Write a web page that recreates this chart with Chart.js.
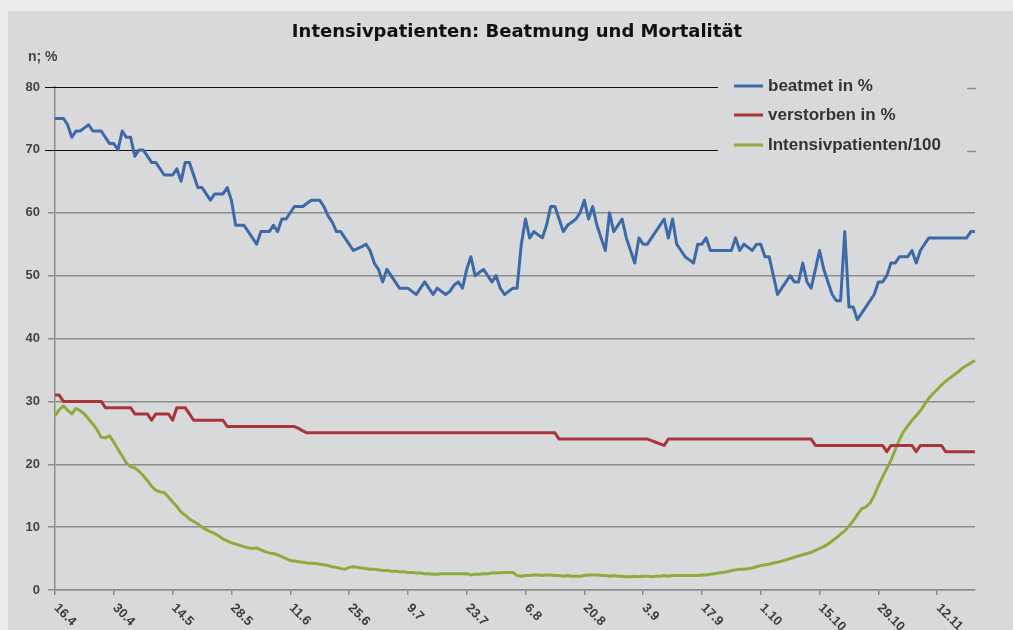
<!DOCTYPE html>
<html lang="de">
<head>
<meta charset="utf-8">
<title>Intensivpatienten: Beatmung und Mortalität</title>
<script src="https://cdn.jsdelivr.net/npm/chart.js@4.4.1/dist/chart.umd.min.js"></script>
<style>
  html, body { margin: 0; padding: 0; background: #ebecee; }
  #wrap { width: 1013px; height: 630px; }
</style>
</head>
<body>
<div id="wrap"><canvas id="chart-icu" width="1013" height="630"></canvas></div>
<script>
// Tageswerte ab 16.4. (220 Tage)
const beatmet = [
  75, 75, 75, 74, 72, 73, 73, 73.5, 74, 73,
  73, 73, 72, 71, 71, 70, 73, 72, 72, 69,
  70, 70, 69, 68, 68, 67, 66, 66, 66, 67,
  65, 68, 68, 66, 64, 64, 63, 62, 63, 63,
  63, 64, 62, 58, 58, 58, 57, 56, 55, 57,
  57, 57, 58, 57, 59, 59, 60, 61, 61, 61,
  61.5, 62, 62, 62, 61, 59.5, 58.5, 57, 57, 56,
  55, 54, 54.3, 54.6, 55, 54, 52, 51, 49, 51,
  50, 49, 48, 48, 48, 47.5, 47, 48, 49, 48,
  47, 48, 47.5, 47, 47.5, 48.5, 49, 48, 51, 53,
  50, 50.5, 51, 50, 49, 50, 48, 47, 47.5, 48,
  48, 55, 59, 56, 57, 56.5, 56, 58, 61, 61,
  59, 57, 58, 58.5, 59, 60, 62, 59, 61, 58,
  56, 54, 60, 57, 58, 59, 56, 54, 52, 56,
  55, 55, 56, 57, 58, 59, 56, 59, 55, 54,
  53, 52.5, 52, 55, 55, 56, 54, 54, 54, 54,
  54, 54, 56, 54, 55, 54.5, 54, 55, 55, 53,
  53, 50, 47, 48, 49, 50, 49, 49, 52, 49,
  48, 51, 54, 51, 49, 47, 46, 46, 57, 45,
  45, 43, 44, 45, 46, 47, 49, 49, 50, 52,
  52, 53, 53, 53, 54, 52, 54, 55, 56, 56,
  56, 56, 56, 56, 56, 56, 56, 56, 57, 57
];

const verstorben = [
  31, 31, 30, 30, 30, 30, 30, 30, 30, 30,
  30, 30, 29, 29, 29, 29, 29, 29, 29, 28,
  28, 28, 28, 27, 28, 28, 28, 28, 27, 29,
  29, 29, 28, 27, 27, 27, 27, 27, 27, 27,
  27, 26, 26, 26, 26, 26, 26, 26, 26, 26,
  26, 26, 26, 26, 26, 26, 26, 26, 25.7, 25.3,
  25, 25, 25, 25, 25, 25, 25, 25, 25, 25,
  25, 25, 25, 25, 25, 25, 25, 25, 25, 25,
  25, 25, 25, 25, 25, 25, 25, 25, 25, 25,
  25, 25, 25, 25, 25, 25, 25, 25, 25, 25,
  25, 25, 25, 25, 25, 25, 25, 25, 25, 25,
  25, 25, 25, 25, 25, 25, 25, 25, 25, 25,
  24, 24, 24, 24, 24, 24, 24, 24, 24, 24,
  24, 24, 24, 24, 24, 24, 24, 24, 24, 24,
  24, 24, 23.75, 23.5, 23.25, 23, 24, 24, 24, 24,
  24, 24, 24, 24, 24, 24, 24, 24, 24, 24,
  24, 24, 24, 24, 24, 24, 24, 24, 24, 24,
  24, 24, 24, 24, 24, 24, 24, 24, 24, 24,
  24, 23, 23, 23, 23, 23, 23, 23, 23, 23,
  23, 23, 23, 23, 23, 23, 23, 23, 22, 23,
  23, 23, 23, 23, 23, 22, 23, 23, 23, 23,
  23, 23, 22, 22, 22, 22, 22, 22, 22, 22
];

const intensiv100 = [
  27.7, 28.7, 29.3, 28.6, 28.0, 28.9, 28.5, 28.0, 27.2, 26.4,
  25.5, 24.3, 24.2, 24.5, 23.5, 22.4, 21.3, 20.2, 19.6, 19.4,
  18.9, 18.2, 17.4, 16.5, 15.9, 15.6, 15.5, 14.8, 14.0, 13.3,
  12.4, 11.9, 11.3, 10.9, 10.5, 10.0, 9.6, 9.3, 9.0, 8.6,
  8.1, 7.8, 7.5, 7.3, 7.1, 6.9, 6.7, 6.6, 6.7, 6.4,
  6.1, 5.9, 5.8, 5.6, 5.3, 5.0, 4.7, 4.6, 4.5, 4.4,
  4.3, 4.25, 4.2, 4.1, 4.0, 3.9, 3.7, 3.6, 3.4, 3.3,
  3.6, 3.7, 3.6, 3.5, 3.4, 3.3, 3.3, 3.2, 3.1, 3.1,
  3.0, 3.0, 2.9, 2.9, 2.8, 2.8, 2.7, 2.7, 2.6, 2.6,
  2.5, 2.5, 2.6, 2.6, 2.6, 2.6, 2.6, 2.6, 2.6, 2.4,
  2.5, 2.5, 2.6, 2.6, 2.7, 2.7, 2.75, 2.8, 2.8, 2.8,
  2.3, 2.2, 2.3, 2.3, 2.4, 2.4, 2.3, 2.4, 2.4, 2.3,
  2.3, 2.2, 2.3, 2.2, 2.2, 2.2, 2.3, 2.4, 2.4, 2.4,
  2.3, 2.3, 2.2, 2.3, 2.2, 2.2, 2.1, 2.1, 2.2, 2.1,
  2.2, 2.2, 2.1, 2.2, 2.2, 2.3, 2.2, 2.3, 2.3, 2.3,
  2.3, 2.3, 2.3, 2.3, 2.4, 2.4, 2.5, 2.6, 2.7, 2.8,
  2.9, 3.1, 3.2, 3.3, 3.3, 3.4, 3.5, 3.7, 3.9, 4.0,
  4.1, 4.3, 4.4, 4.6, 4.8, 5.0, 5.2, 5.4, 5.6, 5.8,
  6.0, 6.3, 6.6, 6.9, 7.3, 7.8, 8.3, 8.9, 9.4, 10.2,
  11.0, 12.0, 12.9, 13.2, 13.8, 15.0, 16.6, 18.0, 19.3, 20.6,
  22.3, 23.9, 25.2, 26.1, 27.0, 27.7, 28.5, 29.5, 30.5, 31.2,
  31.9, 32.6, 33.2, 33.7, 34.2, 34.7, 35.3, 35.7, 36.1, 36.5
];

// Beschriftung der x-Achse: jeder 14. Tag
const tickLabels = ['16.4', '30.4', '14.5', '28.5', '11.6', '25.6', '9.7', '23.7',
  '6.8', '20.8', '3.9', '17.9', '1.10', '15.10', '29.10', '12.11'];
const tickStep = 14;
const yTicks = [0, 10, 20, 30, 40, 50, 60, 70, 80];
const seriesNames = ['beatmet in %', 'verstorben in %', 'Intensivpatienten/100'];
const seriesColors = ['#3d69a8', '#a8353a', '#8cab3c'];

// Kategorien: ein Eintrag je Tag
const days = beatmet.map((_, i) => {
  const d = new Date(2020, 3, 16 + i);
  return d.getDate() + '.' + (d.getMonth() + 1);
});

const GRID = '#8c8c8c';

const decorPlugin = {
  id: 'decor',
  beforeDraw: (chart) => {
    const ctx = chart.ctx;
    ctx.save();
    ctx.fillStyle = '#ebecee';
    ctx.fillRect(0, 0, chart.width, chart.height);
    ctx.fillStyle = '#d8d9db';
    ctx.fillRect(8, 11, chart.width - 8, chart.height - 11);
    // leicht hellerer Kasten oben links
    const y = chart.scales.y;
    ctx.fillStyle = 'rgba(255,255,255,0.05)';
    ctx.fillRect(chart.chartArea.left, y.getPixelForValue(80), 192, y.getPixelForValue(70) - y.getPixelForValue(80));
    ctx.restore();
  },
  beforeDatasetsDraw: (chart) => {
    const ctx = chart.ctx;
    const y = chart.scales.y;
    ctx.save();
    [80, 70].forEach(v => {
      const py = Math.round(y.getPixelForValue(v)) + 0.5;
      ctx.strokeStyle = '#111';
      ctx.lineWidth = 1.2;
      ctx.beginPath();
      ctx.moveTo(45, py);
      ctx.lineTo(718, py);
      ctx.stroke();
      ctx.strokeStyle = GRID;
      ctx.lineWidth = 1.5;
      ctx.beginPath();
      ctx.moveTo(967, py + 1);
      ctx.lineTo(976, py + 1);
      ctx.stroke();
    });
    ctx.restore();
  },
  afterDraw: (chart) => {
    const ctx = chart.ctx;
    const x = chart.scales.x;
    const area = chart.chartArea;
    ctx.save();

    // Titel
    ctx.fillStyle = '#111';
    ctx.font = 'bold 18px "DejaVu Sans"';
    ctx.textAlign = 'center';
    ctx.textBaseline = 'middle';
    ctx.fillText('Intensivpatienten: Beatmung und Mortalität', 517, 32);

    // Achsentitel
    ctx.fillStyle = '#444';
    ctx.font = 'bold 14px "Liberation Sans"';
    ctx.textAlign = 'left';
    ctx.fillText('n; %', 28, 57);

    // Datumsbeschriftung, schräg nach rechts unten
    ctx.fillStyle = '#3c3c3c';
    ctx.font = 'bold 13px "Liberation Sans"';
    tickLabels.forEach((lab, k) => {
      const px = x.getPixelForValue(k * tickStep);
      ctx.save();
      ctx.translate(px + 1, area.bottom + 16);
      ctx.rotate(Math.PI / 4);
      ctx.textAlign = 'left';
      ctx.textBaseline = 'middle';
      ctx.fillText(lab, 0, 0);
      ctx.restore();
    });

    // Legende
    const rows = [86, 115, 145];
    ctx.font = 'bold 17px "Liberation Sans"';
    ctx.textAlign = 'left';
    ctx.textBaseline = 'middle';
    chart.data.datasets.forEach((ds, i) => {
      ctx.strokeStyle = ds.borderColor;
      ctx.lineWidth = 3;
      ctx.beginPath();
      ctx.moveTo(734, rows[i]);
      ctx.lineTo(763, rows[i]);
      ctx.stroke();
      ctx.fillStyle = '#333';
      ctx.fillText(ds.label, 768, rows[i]);
    });
    ctx.restore();
  }
};

const ctx = document.getElementById('chart-icu');
const chartIcu = new Chart(ctx, {
  type: 'line',
  data: {
    labels: days,
    datasets: [beatmet, verstorben, intensiv100].map((values, i) => ({
      label: seriesNames[i],
      data: values,
      borderColor: seriesColors[i],
      backgroundColor: seriesColors[i],
      borderWidth: 3,
      pointRadius: 0,
      tension: 0,
      borderJoinStyle: 'round',
      fill: false
    }))
  },
  options: {
    responsive: false,
    animation: false,
    devicePixelRatio: 1,
    layout: { padding: { top: 87, right: 38, bottom: 0, left: 0 } },
    scales: {
      x: {
        type: 'category',
        offset: false,
        afterFit: (s) => { s.height = 40; },
        grid: {
          drawOnChartArea: false,
          tickLength: 5,
          lineWidth: 1.5,
          color: (c) => (c.index % tickStep === 0 ? GRID : 'transparent')
        },
        border: { color: GRID, width: 1.5 },
        ticks: { display: false, autoSkip: false }
      },
      y: {
        min: 0,
        max: 80,
        afterFit: (s) => { s.width = 55; },
        afterBuildTicks: (s) => { s.ticks = yTicks.map(v => ({ value: v })); },
        grid: {
          tickLength: 7,
          lineWidth: 1.5,
          color: (c) => (c.tick && (c.tick.value === 70 || c.tick.value === 80) ? 'transparent' : GRID)
        },
        border: { color: GRID, width: 1.5 },
        ticks: {
          padding: 8,
          color: '#444',
          font: { family: 'Liberation Sans', size: 13, weight: 'bold' }
        }
      }
    },
    plugins: {
      legend: { display: false },
      title: { display: false },
      tooltip: { enabled: false }
    }
  },
  plugins: [decorPlugin]
});
</script>
</body>
</html>
